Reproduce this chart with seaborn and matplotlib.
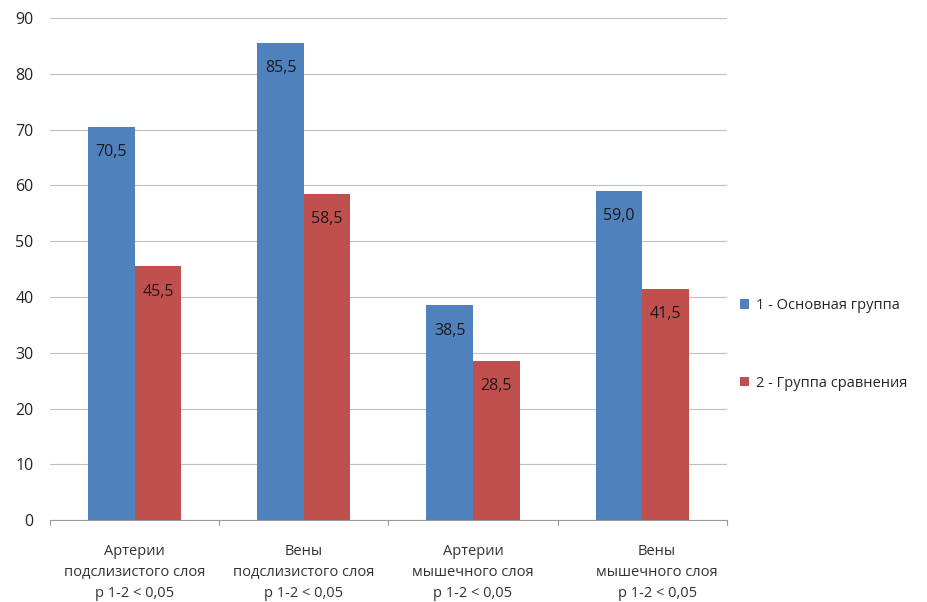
import matplotlib.pyplot as plt
import matplotlib.transforms as mtransforms
import seaborn as sns
import pandas as pd

# Данные с рисунка
категории = ['Артерии\nподслизистого слоя\np 1-2 < 0,05',
             'Вены\nподслизистого слоя\np 1-2 < 0,05',
             'Артерии\nмышечного слоя\np 1-2 < 0,05',
             'Вены\nмышечного слоя\np 1-2 < 0,05']
группы = ['1 - Основная группа', '2 - Группа сравнения']
основная = [70.5, 85.5, 38.5, 59.0]
сравнения = [45.5, 58.5, 28.5, 41.5]
цвета = ['#4F81BD', '#C0504D']

df = pd.DataFrame({
    'Категория': категории * 2,
    'Группа': [группы[0]] * 4 + [группы[1]] * 4,
    'Значение': основная + сравнения,
})

sns.set_style('white')
plt.rcParams['font.family'] = ['Open Sans', 'DejaVu Sans']

fig = plt.figure(figsize=(9.27, 6.02), dpi=100)
ax = fig.add_axes([0.054, 0.136, 0.73, 0.834])

sns.barplot(data=df, x='Категория', y='Значение', hue='Группа',
            palette=цвета, width=0.55, saturation=1, linewidth=0,
            ax=ax, zorder=3)

# Подписи значений внутри столбцов
for cont in ax.containers:
    labels = [f'{v:.1f}'.replace('.', ',') for v in cont.datavalues]
    ax.bar_label(cont, labels=labels, padding=-24, fontsize=11.5, color='#1a1a1a')

ax.set_ylim(0, 90)
ax.set_yticks(range(0, 91, 10))
ax.yaxis.grid(True, color='#bfbfbf', linewidth=0.8, zorder=0)
ax.set_xlabel('')
ax.set_ylabel('')
ax.tick_params(axis='y', labelsize=11.5, length=0, pad=12)
ax.tick_params(axis='x', labelsize=10.5, length=0, pad=17, colors='#333333')
for lbl in ax.get_xticklabels():
    lbl.set_linespacing(1.55)
# последняя подпись в оригинале сдвинута вправо
last = ax.get_xticklabels()[-1]
last.set_transform(last.get_transform() + mtransforms.ScaledTranslation(0.15, 0, fig.dpi_scale_trans))

for s in ['top', 'right', 'left']:
    ax.spines[s].set_visible(False)
ax.spines['bottom'].set_color('#9a9a9a')

# Разделители категорий на оси x
for x in [-0.5, 0.5, 1.5, 2.5, 3.5]:
    ax.plot([x, x], [0, -0.8], color='#9a9a9a', linewidth=0.8, clip_on=False)
ax.set_xlim(-0.5, 3.5)

leg = ax.legend(loc='center left', bbox_to_anchor=(1.0, 0.35), frameon=False,
                fontsize=10.5, handlelength=0.6, handleheight=0.6,
                labelspacing=4.3, handletextpad=0.5)

fig.savefig('out.png', dpi=100)
